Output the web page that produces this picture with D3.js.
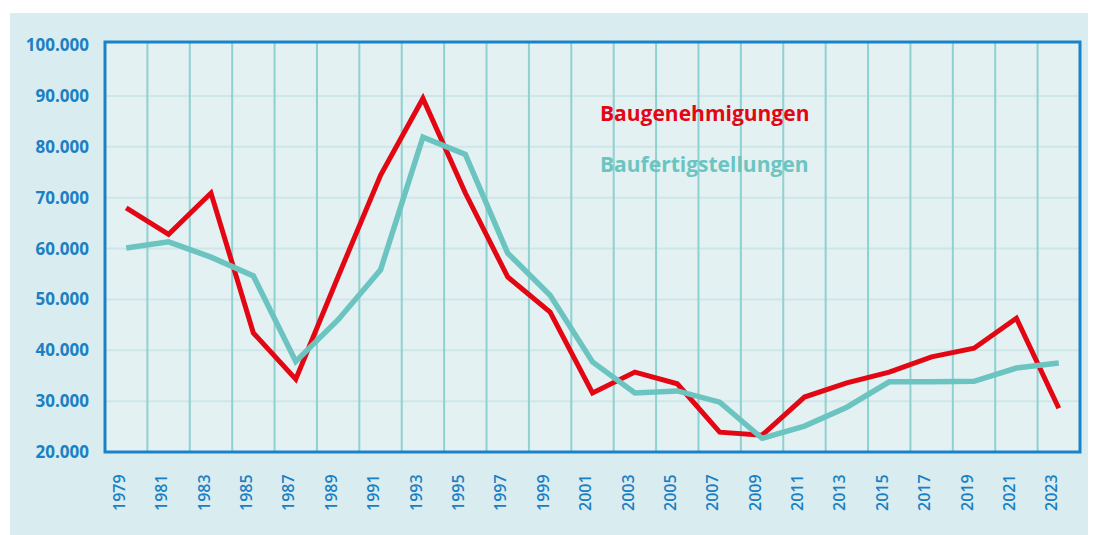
<!doctype html>
<html>
<head>
<meta charset="utf-8">
<style>
  body { margin:0; background:#fff; }
  svg { display:block; }
  .ylab { font-family:"Open Sans", sans-serif; font-weight:700; font-size:17px; fill:#1b80c3; }
  .xlab { font-family:"Open Sans", sans-serif; font-weight:600; font-size:16px; fill:#1b80c3; }
  .legend { font-family:"Open Sans", sans-serif; font-weight:700; font-size:21px; }
</style>
<script src="https://cdn.jsdelivr.net/npm/d3@7"></script>
</head>
<body>
<svg id="chart" width="1094" height="535"></svg>
<script>
// data, every second year
var years = [1979,1981,1983,1985,1987,1989,1991,1993,1995,1997,1999,2001,2003,2005,2007,2009,2011,2013,2015,2017,2019,2021,2023]
var genehmigungen = [68000,62800,70900,43400,34300,54500,74400,89500,70900,54400,47500,31600,35700,33400,23900,23300,30800,33600,35700,38700,40400,46300,28600]
var fertigstellungen = [60100,61300,58300,54600,37800,46000,55800,81900,78500,59100,50800,37700,31600,32000,29800,22700,25100,28800,33800,33800,33900,36500,37500]
var yTicks = [20000,30000,40000,50000,60000,70000,80000,90000,100000]
var seriesNames = ["Baugenehmigungen","Baufertigstellungen"]

var svg = d3.select("#chart")
var x = d3.scaleLinear().domain([1978,2024]).range([105,1080])
var y = d3.scaleLinear().domain([20000,100000]).range([452,45])

// panel background
svg.append("rect").attr("x",10).attr("y",13).attr("width",1078).attr("height",522).attr("fill","#d9ecef")
svg.append("rect").attr("x",x(1978)).attr("y",42).attr("width",x(2024)-x(1978)).attr("height",452-42).attr("fill","#e3f1f3")

// grid
svg.append("g").selectAll("line").data(yTicks.slice(1,-1)).enter().append("line")
  .attr("x1",x(1978)).attr("x2",x(2024))
  .attr("y1",function(d){return y(d)}).attr("y2",function(d){return y(d)})
  .attr("stroke","#cfe6e9").attr("stroke-width",2)
svg.append("g").selectAll("line").data(d3.range(1980,2024,2)).enter().append("line")
  .attr("x1",function(d){return x(d)}).attr("x2",function(d){return x(d)})
  .attr("y1",42).attr("y2",452)
  .attr("stroke","#8fd0d0").attr("stroke-width",2)

// y labels
var fmt = d3.format(",")
svg.append("g").selectAll("text").data(yTicks).enter().append("text")
  .attr("class","ylab")
  .attr("x",89).attr("y",function(d){return y(d)})
  .attr("dy","0.36em").attr("text-anchor","end")
  .text(function(d){return fmt(d).replace(/,/g,".")})

// x labels
svg.append("g").selectAll("text").data(years).enter().append("text")
  .attr("class","xlab")
  .attr("transform",function(d){return "translate("+(x(d)-7)+",511) rotate(-90)"})
  .attr("dy","0.35em")
  .text(function(d){return d})

// lines
var line = d3.line().x(function(d,i){return x(years[i])}).y(function(d){return y(d)})
svg.append("path").datum(genehmigungen).attr("d",line)
  .attr("fill","none").attr("stroke","#e30613").attr("stroke-width",5).attr("stroke-linejoin","miter")
svg.append("path").datum(fertigstellungen).attr("d",line)
  .attr("fill","none").attr("stroke","#6cc4c1").attr("stroke-width",5.5).attr("stroke-linejoin","miter")

// border
svg.append("rect").attr("x",x(1978)).attr("y",42).attr("width",x(2024)-x(1978)).attr("height",452-42)
  .attr("fill","none").attr("stroke","#1a82c8").attr("stroke-width",3)

// legend
svg.append("text").attr("class","legend").attr("x",600).attr("y",121).attr("fill","#e30613").text(seriesNames[0])
svg.append("text").attr("class","legend").attr("x",600).attr("y",172).attr("fill","#6cc4c1").text(seriesNames[1])
</script>
</body>
</html>
